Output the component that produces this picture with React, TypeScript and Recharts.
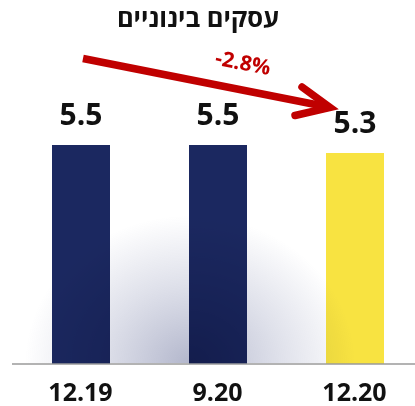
import { BarChart, Bar, XAxis, YAxis, LabelList, Cell } from 'recharts';

const periods = ['12.19', '9.20', '12.20'];
const values = [5.5, 5.5, 5.3];
const barColors = ['#1B2860', '#1B2860', '#F8E341'];
const title = 'עסקים בינוניים';
const changeLabel = '-2.8%';

const data = periods.map((period, i) => ({ period, value: values[i] }));

function PeriodTick(props: any) {
  const { x, y, payload } = props;
  return (
    <text x={x} y={y + 29} textAnchor="middle" fontSize={25} fontWeight={700} fill="#111" fontFamily="'Open Sans', sans-serif">
      {payload.value}
    </text>
  );
}

export default function App() {
  return (
    <div style={{ position: 'absolute', left: 0, top: 0, width: 415, height: 406, overflow: 'hidden', background: '#fff' }}>
      <BarChart width={423} height={406} data={data} margin={{ top: 125, right: 0, bottom: 0, left: 12 }}>
        <YAxis hide domain={[0, 6]} />
        <XAxis
          dataKey="period"
          height={42}
          axisLine={{ stroke: '#9a9a9a', strokeWidth: 1.5 }}
          tickLine={false}
          tick={<PeriodTick />}
          interval={0}
        />
        <Bar dataKey="value" barSize={58} isAnimationActive={false}>
          {data.map((d, i) => (
            <Cell key={d.period} fill={barColors[i]} />
          ))}
          <LabelList
            dataKey="value"
            position="top"
            offset={20}
            formatter={(v: any) => Number(v).toFixed(1)}
            style={{ fontSize: 30, fontWeight: 700, fill: '#111', fontFamily: "'Open Sans', sans-serif" }}
          />
        </Bar>
      </BarChart>
      <svg width={415} height={406} style={{ position: 'absolute', left: 0, top: 0, pointerEvents: 'none' }}>
        <defs>
          <radialGradient id="glow" cx={190} cy={364} r={165} gradientUnits="userSpaceOnUse" gradientTransform="translate(190 364) scale(1 0.9) translate(-190 -364)">
            <stop offset="0" stopColor="#2a3570" stopOpacity={0.36} />
            <stop offset="0.55" stopColor="#3a4580" stopOpacity={0.16} />
            <stop offset="1" stopColor="#3a4580" stopOpacity={0} />
          </radialGradient>
        </defs>
        <rect x={0} y={180} width={415} height={183} fill="url(#glow)" style={{ mixBlendMode: 'multiply' }} />
        <text x={198} y={27} textAnchor="middle" fontSize={25.5} fontWeight={700} fill="#111" fontFamily="'Open Sans', sans-serif" direction="rtl">
          {title}
        </text>
        <line x1={83} y1={58.5} x2={328} y2={107} stroke="#C00000" strokeWidth={7.5} />
        <polyline points="302,87 330,107.5 295,115.5" fill="none" stroke="#C00000" strokeWidth={7.5} strokeLinecap="round" strokeLinejoin="miter" />
        <text x={243} y={70} textAnchor="middle" fontSize={21} fontWeight={700} fill="#C00000" fontFamily="'Open Sans', sans-serif" transform="rotate(11 243 63)">
          {changeLabel}
        </text>
      </svg>
    </div>
  );
}
